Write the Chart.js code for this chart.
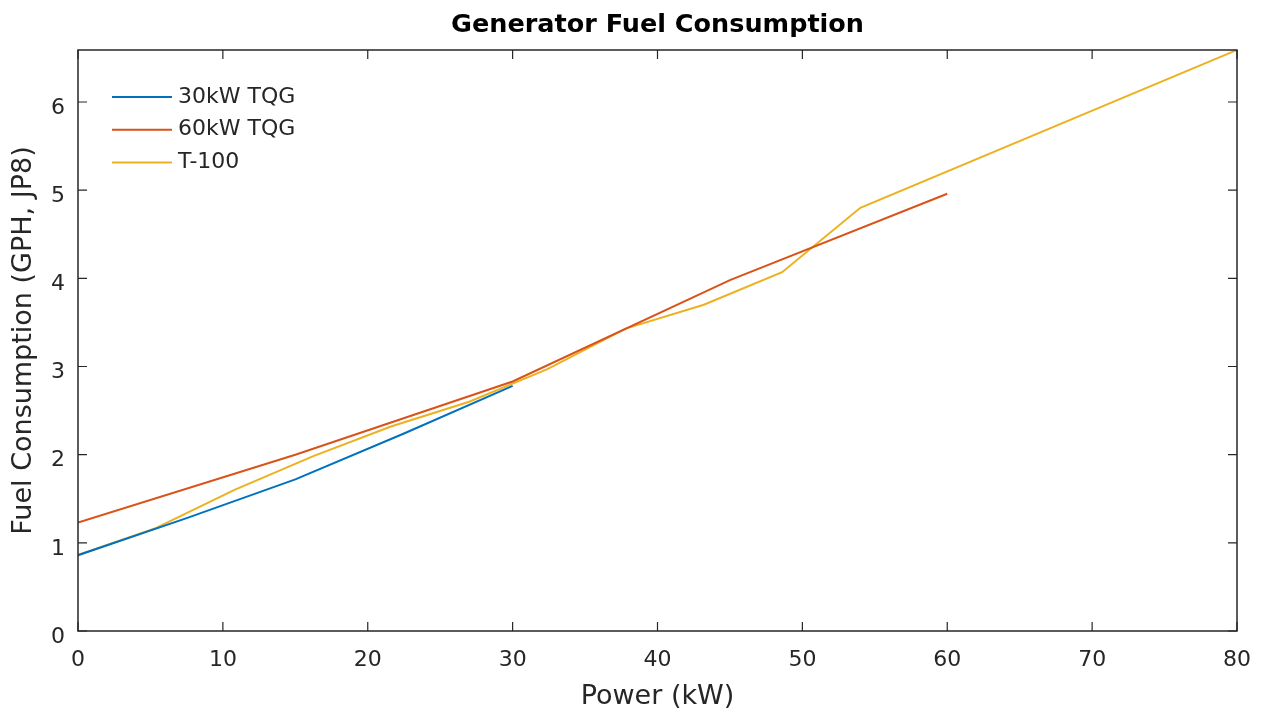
<!DOCTYPE html>
<html>
<head>
<meta charset="utf-8">
<title>Generator Fuel Consumption</title>
<script src="https://cdn.jsdelivr.net/npm/chart.js@4"></script>
<style>
  html, body { margin: 0; padding: 0; background: #fff; }
  #wrap { width: 1262px; height: 715px; }
</style>
</head>
<body>
<div id="wrap"><canvas id="myChart" width="1262" height="715"></canvas></div>
<script>
// values
var tqg30Power = [0, 7.5, 15, 22.5, 30];
var tqg30Fuel = [0.86, 1.28, 1.72, 2.24, 2.78];

var tqg60Power = [0, 15, 30, 45, 60];
var tqg60Fuel = [1.23, 2.0, 2.83, 3.98, 4.96];

var t100Power = [0, 5.4, 10.8, 16.2, 21.6, 27, 32.4, 37.8, 43.2, 48.6, 54, 80];
var t100Fuel = [0.86, 1.17, 1.6, 1.98, 2.32, 2.6, 2.97, 3.43, 3.7, 4.07, 4.8, 6.59];

var xTicks = [0, 10, 20, 30, 40, 50, 60, 70, 80];
var yTicks = [0, 1, 2, 3, 4, 5, 6];

var seriesNames = ['30kW TQG', '60kW TQG', 'T-100'];
var seriesColors = ['#0072BD', '#D95319', '#EDB120'];
var chartTitle = 'Generator Fuel Consumption';

var axisColor = '#262626';
var fontFamily = "'DejaVu Sans', sans-serif";

function toPoints(xs, ys) {
    return xs.map(function(x, i) { return { x: x, y: ys[i] }; });
}

// MATLAB style box with inward ticks on all four sides, title over the axes, legend
var boxPlugin = {
    id: 'boxPlugin',
    afterDraw: function(chart) {
        var ctx = chart.ctx;
        var area = chart.chartArea;
        var xs = chart.scales.x;
        var ys = chart.scales.y;
        var tickLen = 9;

        ctx.save();
        ctx.strokeStyle = axisColor;
        ctx.lineWidth = 1.5;
        ctx.strokeRect(area.left, area.top, area.right - area.left, area.bottom - area.top);

        ctx.lineWidth = 1.2;
        ctx.beginPath();
        xTicks.forEach(function(v) {
            var px = xs.getPixelForValue(v);
            ctx.moveTo(px, area.bottom);
            ctx.lineTo(px, area.bottom - tickLen);
            ctx.moveTo(px, area.top);
            ctx.lineTo(px, area.top + tickLen);
        });
        yTicks.forEach(function(v) {
            var py = ys.getPixelForValue(v);
            ctx.moveTo(area.left, py);
            ctx.lineTo(area.left + tickLen, py);
            ctx.moveTo(area.right, py);
            ctx.lineTo(area.right - tickLen, py);
        });
        ctx.stroke();

        // title centred on the axes, like matlab does
        ctx.fillStyle = '#000';
        ctx.font = 'bold 25.5px ' + fontFamily;
        ctx.textAlign = 'center';
        ctx.textBaseline = 'middle';
        ctx.fillText(chartTitle, (area.left + area.right) / 2, area.top - 25);

        // legend, no box
        ctx.font = '22px ' + fontFamily;
        ctx.textAlign = 'left';
        chart.data.datasets.forEach(function(ds, i) {
            var ly = area.top + 47 + i * 32.7;
            ctx.strokeStyle = ds.borderColor;
            ctx.lineWidth = 2;
            ctx.beginPath();
            ctx.moveTo(area.left + 34, ly);
            ctx.lineTo(area.left + 94, ly);
            ctx.stroke();
            ctx.fillStyle = axisColor;
            ctx.fillText(ds.label, area.left + 100, ly);
        });
        ctx.restore();
    }
};

var ctx = document.getElementById('myChart').getContext('2d');
var myChart = new Chart(ctx, {
    type: 'line',
    data: {
        datasets: [
            { label: seriesNames[0], data: toPoints(tqg30Power, tqg30Fuel), borderColor: seriesColors[0] },
            { label: seriesNames[1], data: toPoints(tqg60Power, tqg60Fuel), borderColor: seriesColors[1] },
            { label: seriesNames[2], data: toPoints(t100Power, t100Fuel), borderColor: seriesColors[2] }
        ]
    },
    options: {
        responsive: false,
        animation: false,
        layout: { padding: { left: 0, right: 25, top: 50, bottom: 0 } },
        elements: {
            line: { borderWidth: 2, tension: 0, fill: false },
            point: { radius: 0, hoverRadius: 0 }
        },
        plugins: {
            legend: { display: false },
            tooltip: { enabled: false },
            title: { display: false }
        },
        scales: {
            x: {
                type: 'linear',
                min: 0,
                max: 80,
                afterFit: function(scale) {
                    scale.height = 84;
                    scale.paddingLeft = 0;
                    scale.paddingRight = 0;
                },
                afterBuildTicks: function(scale) {
                    scale.ticks = xTicks.map(function(v) { return { value: v }; });
                },
                grid: { display: false, drawTicks: false },
                border: { display: false },
                ticks: {
                    color: axisColor,
                    padding: 16,
                    maxRotation: 0,
                    font: { family: fontFamily, size: 22 }
                },
                title: {
                    display: true,
                    text: 'Power (kW)',
                    color: axisColor,
                    font: { family: fontFamily, size: 27 },
                    padding: { top: 0, bottom: 2 }
                }
            },
            y: {
                type: 'linear',
                min: 0,
                max: 6.59,
                afterFit: function(scale) {
                    scale.width = 78;
                    scale.paddingTop = 0;
                    scale.paddingBottom = 0;
                },
                afterBuildTicks: function(scale) {
                    scale.ticks = yTicks.map(function(v) { return { value: v }; });
                },
                grid: { display: false, drawTicks: false },
                border: { display: false },
                ticks: {
                    color: axisColor,
                    padding: 13,
                    labelOffset: 6,
                    font: { family: fontFamily, size: 22 }
                },
                title: {
                    display: true,
                    text: 'Fuel Consumption (GPH, JP8)',
                    color: axisColor,
                    font: { family: fontFamily, size: 27 },
                    padding: { top: 8, bottom: 0 }
                }
            }
        }
    },
    plugins: [boxPlugin]
});
</script>
</body>
</html>
